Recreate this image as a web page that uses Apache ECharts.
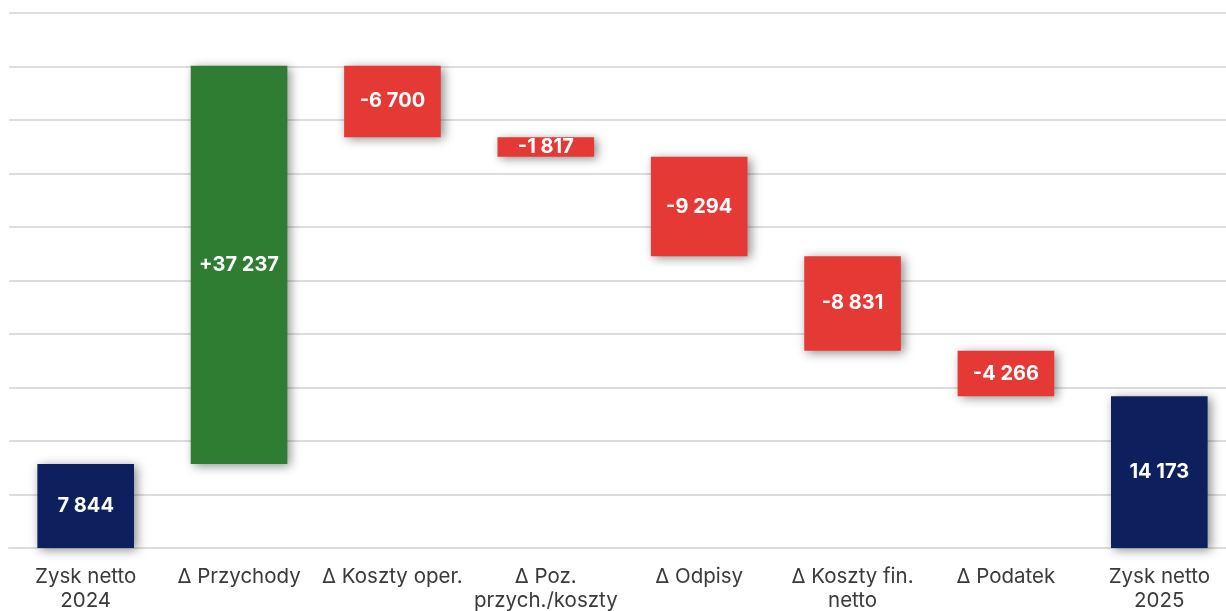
<!DOCTYPE html>
<html>
<head>
<meta charset="utf-8">
<script src="https://cdn.jsdelivr.net/npm/echarts@6/dist/echarts.min.js"></script>
<style>
  html, body { margin: 0; padding: 0; background: #fff; }
  #chart { width: 1226px; height: 611px; }
</style>
</head>
<body>
<div id="chart"></div>
<script>
// kategorie i zmiany
var categories = ['Zysk netto\n2024', 'Δ Przychody', 'Δ Koszty oper.', 'Δ Poz.\nprzych./koszty', 'Δ Odpisy', 'Δ Koszty fin.\nnetto', 'Δ Podatek', 'Zysk netto\n2025'];
var startValue = 7844;
var deltas = [37237, -6700, -1817, -9294, -8831, -4266];
var endValue = 14173;

var colors = { total: '#0d1f5c', up: '#2e7d32', down: '#e53935' };

function fmt(v) {
  return String(Math.abs(v)).replace(/\B(?=(\d{3})+(?!\d))/g, ' ');
}

// budowa serii: niewidoczna podstawa + widoczny słupek
var baseData = [0];
var barData = [{ value: startValue, label: fmt(startValue), itemStyle: { color: colors.total } }];
var running = startValue;
deltas.forEach(function (d) {
  var next = running + d;
  baseData.push(Math.min(running, next));
  barData.push({
    value: Math.abs(d),
    label: (d > 0 ? '+' : '-') + fmt(d),
    itemStyle: { color: d > 0 ? colors.up : colors.down }
  });
  running = next;
});
baseData.push(0);
barData.push({ value: endValue, label: fmt(endValue), itemStyle: { color: colors.total } });

var chart = echarts.init(document.getElementById('chart'), null, { renderer: 'canvas' });
var option = {
  animation: false,
  grid: { left: 9, right: -10, top: 13, bottom: 63, outerBoundsMode: 'none' },
  xAxis: {
    type: 'category',
    data: categories,
    axisLine: { show: true, lineStyle: { color: '#dddddd', width: 2 } },
    axisTick: { show: false },
    axisLabel: {
      interval: 0,
      color: '#3a3a3a',
      fontFamily: 'Inter',
      fontSize: 20.5,
      lineHeight: 24,
      margin: 17
    }
  },
  yAxis: {
    type: 'value',
    min: 0,
    max: 50000,
    interval: 5000,
    axisLabel: { show: false },
    axisLine: { show: false },
    axisTick: { show: false },
    splitLine: { lineStyle: { color: '#dddddd', width: 2 } }
  },
  series: [
    {
      type: 'bar',
      stack: 'w',
      data: baseData,
      barWidth: '63%',
      itemStyle: { color: 'transparent' },
      silent: true
    },
    {
      type: 'bar',
      stack: 'w',
      barWidth: '63%',
      data: barData.map(function (d) {
        return { value: d.value, itemStyle: d.itemStyle };
      }),
      itemStyle: {
        shadowColor: 'rgba(0,0,0,0.45)',
        shadowBlur: 10,
        shadowOffsetX: 3,
        shadowOffsetY: 2
      },
      label: {
        show: true,
        position: 'inside',
        color: '#ffffff',
        fontFamily: 'Inter',
        fontWeight: 'bold',
        fontSize: 20,
        formatter: function (p) { return barData[p.dataIndex].label; }
      }
    }
  ]
};
chart.setOption(option);
</script>
</body>
</html>
